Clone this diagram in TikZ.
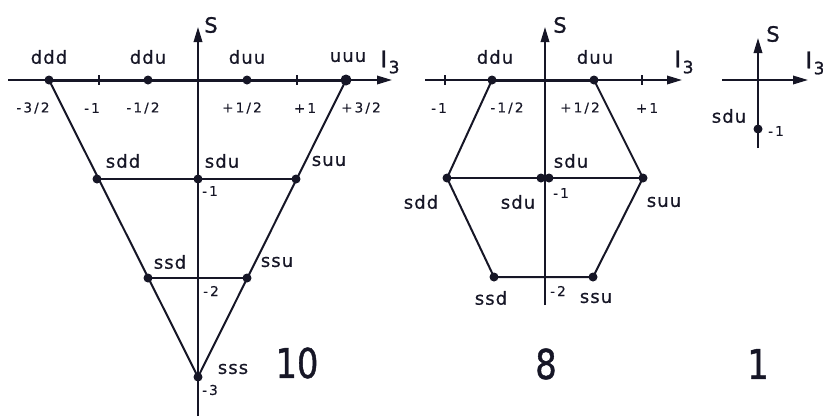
\documentclass[tikz,border=0pt]{standalone}
\usepackage{fontspec}
\setmainfont{DejaVu Sans}
\newfontfamily\labfont[LetterSpace=6,FakeBold=0.6]{DejaVu Sans}
\newfontfamily\tkfont[LetterSpace=16,FakeBold=0.4]{DejaVu Sans}
\newfontfamily\axfont[FakeBold=1.2]{DejaVu Sans}
\usetikzlibrary{arrows.meta}
\definecolor{ink}{RGB}{22,22,38}
\tikzset{
  every node/.style={text=ink},
  dot/.style={circle,fill=ink,draw=none,inner sep=0pt,minimum size=9pt},
  bigdot/.style={dot,minimum size=11pt},
  lbl/.style={font=\labfont\fontsize{18}{18}\selectfont,inner sep=0pt},
  tk/.style={font=\tkfont\fontsize{13.5}{14}\selectfont,inner sep=0pt},
  axlbl/.style={font=\axfont\fontsize{21}{21}\selectfont,inner sep=0pt},
  rep/.style={font=\axfont\fontsize{41}{41}\selectfont,inner sep=0pt},
  ax/.style={draw=ink,line width=1.8pt,-{Triangle[length=15pt,width=8.5pt]}},
  edge/.style={draw=ink,line width=2pt},
  topedge/.style={draw=ink,line width=3pt},
  hline/.style={draw=ink,line width=1.5pt},
  tick/.style={draw=ink,line width=1.5pt}
}
\newcommand{\Ithree}{\axfont\fontsize{23}{23}\selectfont I\kern1.5pt\raisebox{-6pt}{\fontsize{17}{17}\selectfont 3}}
\begin{document}
\begin{tikzpicture}[x=1pt,y=-1pt]
\useasboundingbox (0,0) rectangle (823,416);
% ================= decuplet =================
\coordinate (Lh0) at (8,80);
\coordinate (Lh1) at (392,80);
\coordinate (Lv0) at (198,416);
\coordinate (Lv1) at (198,27);
\coordinate (Ltm1a) at (99,75); \coordinate (Ltm1b) at (99,85);
\coordinate (Ltp1a) at (297,75); \coordinate (Ltp1b) at (297,85);
\draw[ax] (Lh0) -- (Lh1);
\draw[ax] (Lv0) -- (Lv1);
\draw[tick] (Ltm1a) -- (Ltm1b);
\draw[tick] (Ltp1a) -- (Ltp1b);
\node[dot] (ddd) at (49,80) {};
\node[dot] (Lddu) at (148,80) {};
\node[dot] (Lduu) at (247,80) {};
\node[bigdot] (uuu) at (346,80) {};
\node[dot] (Lsdd) at (97,179) {};
\node[dot] (Lsdu) at (198,179) {};
\node[dot] (Lsuu) at (296,179) {};
\node[dot] (Lssd) at (148,278) {};
\node[dot] (Lssu) at (247,278) {};
\node[dot] (sss) at (198,377) {};
\draw[topedge] (ddd.center) -- (uuu.center);
\draw[edge] (ddd.center) -- (sss.center) -- (uuu.center);
\draw[hline] (Lsdd.center) -- (Lsuu.center);
\draw[hline] (Lssd.center) -- (Lssu.center);
\node[axlbl] (LS) at (211,25) {S};
\node[inner sep=0pt] (LI) at (390,62) {\Ithree};
\node[lbl] (tddd) at (49,57) {ddd};
\node[lbl] (tLddu) at (148,57) {ddu};
\node[lbl] (tLduu) at (247,57) {duu};
\node[lbl] (tuuu) at (348,57) {uuu};
\node[tk] (k1) at (33,108) {-3/2};
\node[tk] (k2) at (92,108) {-1};
\node[tk] (k3) at (143,108) {-1/2};
\node[tk] (k4) at (242,108) {+1/2};
\node[tk] (k5) at (305,108) {+1};
\node[tk] (k6) at (361,108) {+3/2};
\node[lbl] (tLsdd) at (123,161) {sdd};
\node[lbl] (tLsdu) at (222,161) {sdu};
\node[lbl] (tLsuu) at (329,161) {suu};
\node[tk] (kL1) at (210,191) {-1};
\node[lbl] (tLssd) at (170,262) {ssd};
\node[lbl] (tLssu) at (277,262) {ssu};
\node[tk] (kL2) at (211,291) {-2};
\node[lbl] (tsss) at (233,369) {sss};
\node[tk] (kL3) at (210,390) {-3};
\node[rep] (n10) at (297,363) {\scalebox{0.82}[1]{10}};
% ================= octet =================
\coordinate (Mh0) at (425,80);
\coordinate (Mh1) at (682,80);
\coordinate (Mv0) at (545,305);
\coordinate (Mv1) at (545,27);
\coordinate (Mtm1a) at (445,75); \coordinate (Mtm1b) at (445,85);
\coordinate (Mtp1a) at (642,75); \coordinate (Mtp1b) at (642,85);
\draw[ax] (Mh0) -- (Mh1);
\draw[ax] (Mv0) -- (Mv1);
\draw[tick] (Mtm1a) -- (Mtm1b);
\draw[tick] (Mtp1a) -- (Mtp1b);
\node[dot] (Mddu) at (492,80) {};
\node[dot] (Mduu) at (594,80) {};
\node[dot] (Msdd) at (447,178) {};
\node[dot] (Msuu) at (643,178) {};
\node[dot] (Msdu1) at (541,178) {};
\node[dot] (Msdu2) at (549,178) {};
\node[dot] (Mssd) at (494,277) {};
\node[dot] (Mssu) at (593,277) {};
\draw[topedge] (Mddu.center) -- (Mduu.center);
\draw[edge] (Mduu.center) -- (Msuu.center) -- (Mssu.center) -- (Mssd.center) -- (Msdd.center) -- (Mddu.center);
\draw[hline] (Msdd.center) -- (Msuu.center);
\node[axlbl] (MS) at (560,25) {S};
\node[inner sep=0pt] (MI) at (684,62) {\Ithree};
\node[lbl] (tMddu) at (495,57) {ddu};
\node[lbl] (tMduu) at (595,57) {duu};
\node[tk] (m1) at (439,108) {-1};
\node[tk] (m2) at (507,108) {-1/2};
\node[tk] (m3) at (580,108) {+1/2};
\node[tk] (m4) at (647,108) {+1};
\node[lbl] (tMsdu1) at (571,161) {sdu};
\node[lbl] (tMsdd) at (421,202) {sdd};
\node[lbl] (tMsdu2) at (518,202) {sdu};
\node[tk] (mk1) at (561,193) {-1};
\node[lbl] (tMsuu) at (664,202) {suu};
\node[lbl] (tMssd) at (491,298) {ssd};
\node[tk] (mk2) at (558,291) {-2};
\node[lbl] (tMssu) at (596,298) {ssu};
\node[rep] (n8) at (546,364) {\scalebox{0.82}[1]{8}};
% ================= singlet =================
\coordinate (Rh0) at (722,80);
\coordinate (Rh1) at (808,80);
\coordinate (Rv0) at (758,148);
\coordinate (Rv1) at (758,38);
\draw[ax] (Rh0) -- (Rh1);
\draw[ax] (Rv0) -- (Rv1);
\node[dot] (Rsdu) at (758,129) {};
\node[axlbl] (RS) at (773,34) {S};
\node[inner sep=0pt] (RI) at (815,63) {\Ithree};
\node[lbl] (tRsdu) at (729,116) {sdu};
\node[tk] (rk1) at (776,131) {-1};
\node[rep] (n1) at (758,364) {\scalebox{0.82}[1]{1}};
\end{tikzpicture}
\end{document}
